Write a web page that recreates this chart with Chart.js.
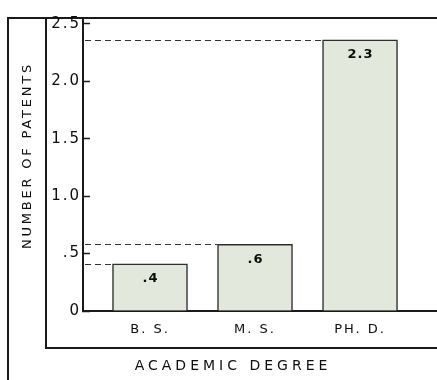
<!DOCTYPE html>
<html>
<head>
<meta charset="utf-8">
<script src="https://cdn.jsdelivr.net/npm/chart.js@4.4.1/dist/chart.umd.min.js"></script>
<style>
  html, body { margin: 0; padding: 0; background: #ffffff; }
  #wrap { width: 437px; height: 380px; background: #ffffff; }
</style>
</head>
<body>
<div id="wrap"><canvas id="c" width="437" height="380"></canvas></div>
<script>
const categories = ['B. S.', 'M. S.', 'PH. D.'];
const patents = [0.41, 0.58, 2.36];
const valueLabels = ['.4', '.6', '2.3'];
const yTickValues = [0, 0.5, 1.0, 1.5, 2.0, 2.5];
const yTickLabels = ['0', '.5', '1.0', '1.5', '2.0', '2.5'];
const xTitle = 'ACADEMIC DEGREE';
const yTitle = 'NUMBER OF PATENTS';

const INK = '#0d0d0d';
const FONT = "'DejaVu Sans', 'Liberation Sans', sans-serif";

const decor = {
  id: 'decor',
  beforeDraw(chart) {
    const ctx = chart.ctx;
    const a = chart.chartArea;
    const W = chart.width, H = chart.height;
    ctx.save();
    ctx.fillStyle = '#ffffff';
    ctx.fillRect(0, 0, W, H);
    ctx.strokeStyle = '#1a1a1a';
    ctx.lineWidth = 2;
    ctx.beginPath();
    // outer frame
    ctx.moveTo(8, H); ctx.lineTo(8, a.top); ctx.lineTo(W, a.top);
    // inner frame
    ctx.moveTo(46, a.top); ctx.lineTo(46, 348); ctx.lineTo(W, 348);
    ctx.stroke();
    ctx.restore();
    ctx.letterSpacing = '2px';
  },
  beforeDatasetsDraw(chart) {
    const ctx = chart.ctx;
    const meta = chart.getDatasetMeta(0);
    const left = chart.chartArea.left;
    ctx.save();
    ctx.strokeStyle = '#333';
    ctx.lineWidth = 1;
    ctx.setLineDash([6, 4]);
    meta.data.forEach(el => {
      const y = Math.round(el.y) + 0.5;
      ctx.beginPath();
      ctx.moveTo(left + 2, y);
      ctx.lineTo(el.x - el.width / 2, y);
      ctx.stroke();
    });
    ctx.restore();
  },
  afterDatasetsDraw(chart) {
    const ctx = chart.ctx;
    const meta = chart.getDatasetMeta(0);
    ctx.save();
    ctx.letterSpacing = '1px';
    ctx.fillStyle = INK;
    ctx.font = 'bold 13px ' + FONT;
    ctx.textAlign = 'center';
    ctx.textBaseline = 'middle';
    meta.data.forEach((el, i) => {
      ctx.fillText(valueLabels[i], el.x + 0.5, el.y + 15);
    });
    ctx.restore();
  },
  afterDraw(chart) {
    const ctx = chart.ctx;
    ctx.save();
    ctx.fillStyle = INK;
    ctx.textAlign = 'center';
    ctx.textBaseline = 'middle';
    ctx.font = '14px ' + FONT;
    ctx.letterSpacing = '4px';
    ctx.fillText(xTitle, 233, 366);

    ctx.translate(28, 157);
    ctx.rotate(-Math.PI / 2);
    ctx.font = '13px ' + FONT;
    ctx.letterSpacing = '2.8px';
    ctx.fillText(yTitle, 1.5, 0);
    ctx.restore();
  }
};

new Chart(document.getElementById('c'), {
  type: 'bar',
  data: {
    datasets: [{
      data: patents.map((v, i) => ({ x: i, y: v })),
      backgroundColor: '#e3e8dd',
      borderColor: '#2e2e2e',
      borderWidth: 1.5,
      barThickness: 75
    }]
  },
  options: {
    responsive: false,
    animation: false,
    devicePixelRatio: 1,
    layout: { padding: { top: 9, left: 0, right: 0, bottom: 0 } },
    plugins: { legend: { display: false }, tooltip: { enabled: false }, title: { display: false } },
    scales: {
      x: {
        type: 'linear',
        min: -0.638,
        max: 2.733,
        offset: false,
        afterBuildTicks: s => { s.ticks = categories.map((c, i) => ({ value: i })); },
        afterFit: s => { s.height = 69; },
        grid: { display: false, drawTicks: false },
        border: { display: true, color: '#1a1a1a', width: 2 },
        ticks: {
          padding: 11,
          color: INK,
          font: { family: FONT, size: 13 },
          autoSkip: false,
          maxRotation: 0,
          callback: v => (categories[v] !== undefined ? categories[v] : '')
        }
      },
      y: {
        min: 0,
        max: 2.55,
        afterBuildTicks: s => { s.ticks = yTickValues.map(v => ({ value: v })); },
        afterFit: s => { s.width = 83; },
        grid: { display: true, drawOnChartArea: false, drawTicks: true, tickLength: -7, tickColor: '#1a1a1a', tickWidth: 1.5 },
        border: { display: true, color: '#1a1a1a', width: 2 },
        ticks: {
          padding: 9,
          color: INK,
          font: { family: FONT, size: 15 },
          autoSkip: false,
          callback: v => {
            const k = yTickValues.indexOf(v);
            return k >= 0 ? yTickLabels[k] : '';
          }
        }
      }
    }
  },
  plugins: [decor]
});
</script>
</body>
</html>
